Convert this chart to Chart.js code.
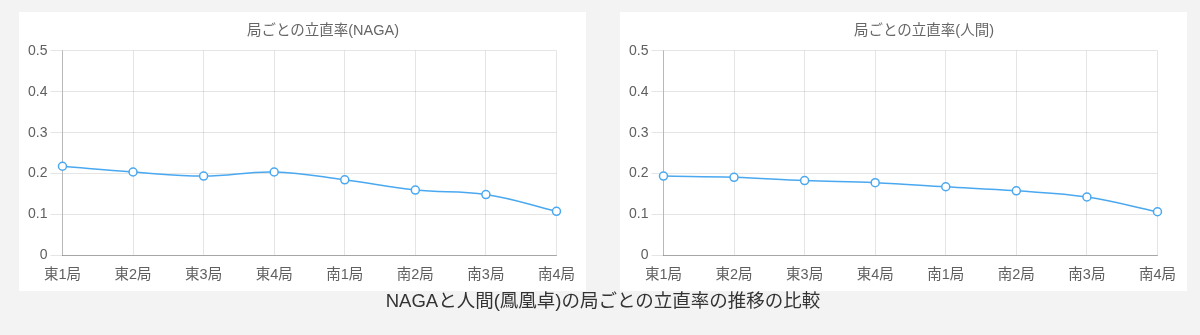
<!DOCTYPE html>
<html>
<head>
<meta charset="utf-8">
<script src="https://cdn.jsdelivr.net/npm/chart.js@4"></script>
<style>
  body { margin: 0; background: #f3f3f3; font-family: 'Liberation Sans', Arial, 'Noto Sans CJK JP', sans-serif; overflow: hidden; }
  .panel { position: absolute; top: 12px; width: 567px; height: 279px; background: #fff; }
  #p1 { left: 19px; }
  #p2 { left: 620px; }
  .panel-title { position: absolute; top: 9px; left: 0; width: 608px; text-align: center; font-size: 14.5px; line-height: 18px; color: #666; }
  .caption { position: absolute; top: 289px; left: 0; width: 1206px; text-align: center; font-size: 18.5px; line-height: 24px; color: #333; }
</style>
</head>
<body>
<div class="panel" id="p1"><div class="panel-title">局ごとの立直率(NAGA)</div><canvas id="nagaChart"></canvas></div>
<div class="panel" id="p2"><div class="panel-title">局ごとの立直率(人間)</div><canvas id="humanChart"></canvas></div>
<div class="caption">NAGAと人間(鳳凰卓)の局ごとの立直率の推移の比較</div>
<script>
const rounds = ["東1局", "東2局", "東3局", "東4局", "南1局", "南2局", "南3局", "南4局"];
const nagaRate = [0.218, 0.204, 0.194, 0.204, 0.185, 0.160, 0.149, 0.108];
const humanRate = [0.194, 0.191, 0.183, 0.178, 0.168, 0.158, 0.143, 0.107];
const yTicks = [0, 0.1, 0.2, 0.3, 0.4, 0.5];

const FONT = "'Liberation Sans', Arial, 'Noto Sans CJK JP', sans-serif";

function makeChart(id, values) {
    return new Chart(document.getElementById(id).getContext('2d'), {
        type: "line",
        data: {
            labels: rounds,
            datasets: [
                {
                    data: values,
                    borderColor: "#4aa8f0",
                    borderWidth: 1.5,
                    pointRadius: 4,
                    pointBorderWidth: 1.5,
                    pointBackgroundColor: "#fff",
                    pointBorderColor: "#4aa8f0",
                    tension: 0.4,
                    fill: false,
                },
            ],
        },
        options: {
            responsive: true,
            maintainAspectRatio: false,
            animation: false,
            layout: { padding: { left: 6, right: 26, top: 38.7, bottom: -4 } },
            plugins: {
                legend: { display: false },
                tooltip: { enabled: false },
                title: { display: false },
            },
            scales: {
                x: {
                    offset: false,
                    grid: { color: "rgba(0,0,0,0.1)", drawTicks: false },
                    border: { color: "rgba(0,0,0,0.28)" },
                    ticks: { color: "#5f5f5f", font: { family: FONT, size: 14.5 }, padding: 11, maxRotation: 0 },
                },
                y: {
                    min: 0,
                    max: 0.5,
                    afterBuildTicks: (axis) => { axis.ticks = yTicks.map(v => ({ value: v })); },
                    grid: { color: "rgba(0,0,0,0.1)", tickLength: 12 },
                    border: { color: "rgba(0,0,0,0.2)" },
                    ticks: { color: "#5f5f5f", font: { family: FONT, size: 14 }, padding: 3 },
                },
            },
        },
    });
}

makeChart("nagaChart", nagaRate);
makeChart("humanChart", humanRate);
</script>
</body>
</html>
